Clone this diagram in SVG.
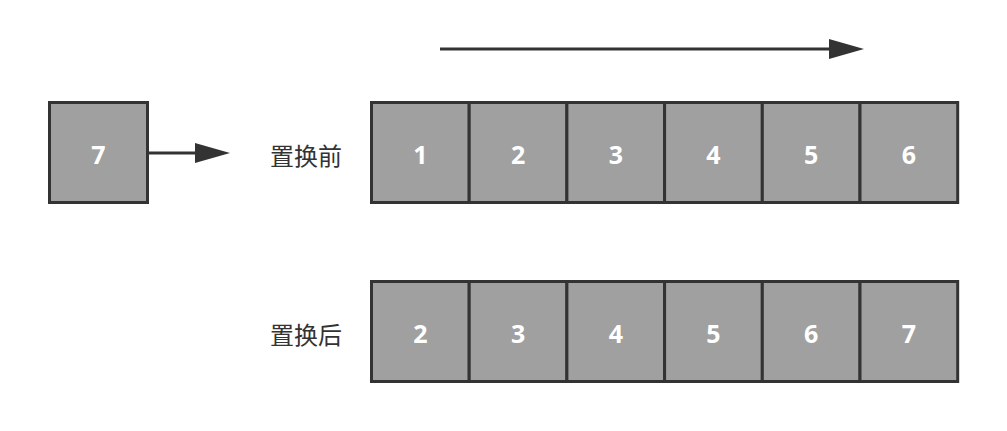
<svg xmlns="http://www.w3.org/2000/svg" width="1007" height="431" viewBox="0 0 1007 431">
<style>
.c{fill:#a0a0a0;stroke:#333;stroke-width:3}
.n{fill:#fff;font-family:"Open Sans","Liberation Sans",sans-serif;font-size:25px;font-weight:bold;text-anchor:middle;dominant-baseline:central}
.l{fill:#333;font-family:"Noto Sans CJK SC",sans-serif;font-size:24px;text-anchor:middle;dominant-baseline:central}
.a{stroke:#333;stroke-width:3;fill:none}
</style>
<rect width="1007" height="431" fill="#fff"/>
<g id="connectors">
<line class="a" x1="148" y1="153" x2="200" y2="153"/>
<polygon points="195,143 230,153 195,163" fill="#333"/>
<line class="a" x1="440" y1="49" x2="835" y2="49"/>
<polygon points="829,39 864,49 829,59" fill="#333"/>
</g>
<g id="n7"><rect class="c" x="49.5" y="102.5" width="98" height="100"/><text class="n" x="98.5" y="154">7</text></g>
<g id="label-before"><text class="l" x="306" y="154">置换前</text></g>
<g id="label-after"><text class="l" x="306" y="333">置换后</text></g>
<g id="top">
<rect class="c" x="371.5" y="102.5" width="97.7" height="100"/><text class="n" x="420.4" y="154">1</text>
<rect class="c" x="469.2" y="102.5" width="97.7" height="100"/><text class="n" x="518.1" y="154">2</text>
<rect class="c" x="566.9" y="102.5" width="97.7" height="100"/><text class="n" x="615.8" y="154">3</text>
<rect class="c" x="664.6" y="102.5" width="97.7" height="100"/><text class="n" x="713.5" y="154">4</text>
<rect class="c" x="762.3" y="102.5" width="97.7" height="100"/><text class="n" x="811.2" y="154">5</text>
<rect class="c" x="860" y="102.5" width="97.7" height="100"/><text class="n" x="908.9" y="154">6</text>
</g>
<g id="bottom">
<rect class="c" x="371.5" y="281.5" width="97.7" height="100"/><text class="n" x="420.4" y="333">2</text>
<rect class="c" x="469.2" y="281.5" width="97.7" height="100"/><text class="n" x="518.1" y="333">3</text>
<rect class="c" x="566.9" y="281.5" width="97.7" height="100"/><text class="n" x="615.8" y="333">4</text>
<rect class="c" x="664.6" y="281.5" width="97.7" height="100"/><text class="n" x="713.5" y="333">5</text>
<rect class="c" x="762.3" y="281.5" width="97.7" height="100"/><text class="n" x="811.2" y="333">6</text>
<rect class="c" x="860" y="281.5" width="97.7" height="100"/><text class="n" x="908.9" y="333">7</text>
</g>
</svg>
